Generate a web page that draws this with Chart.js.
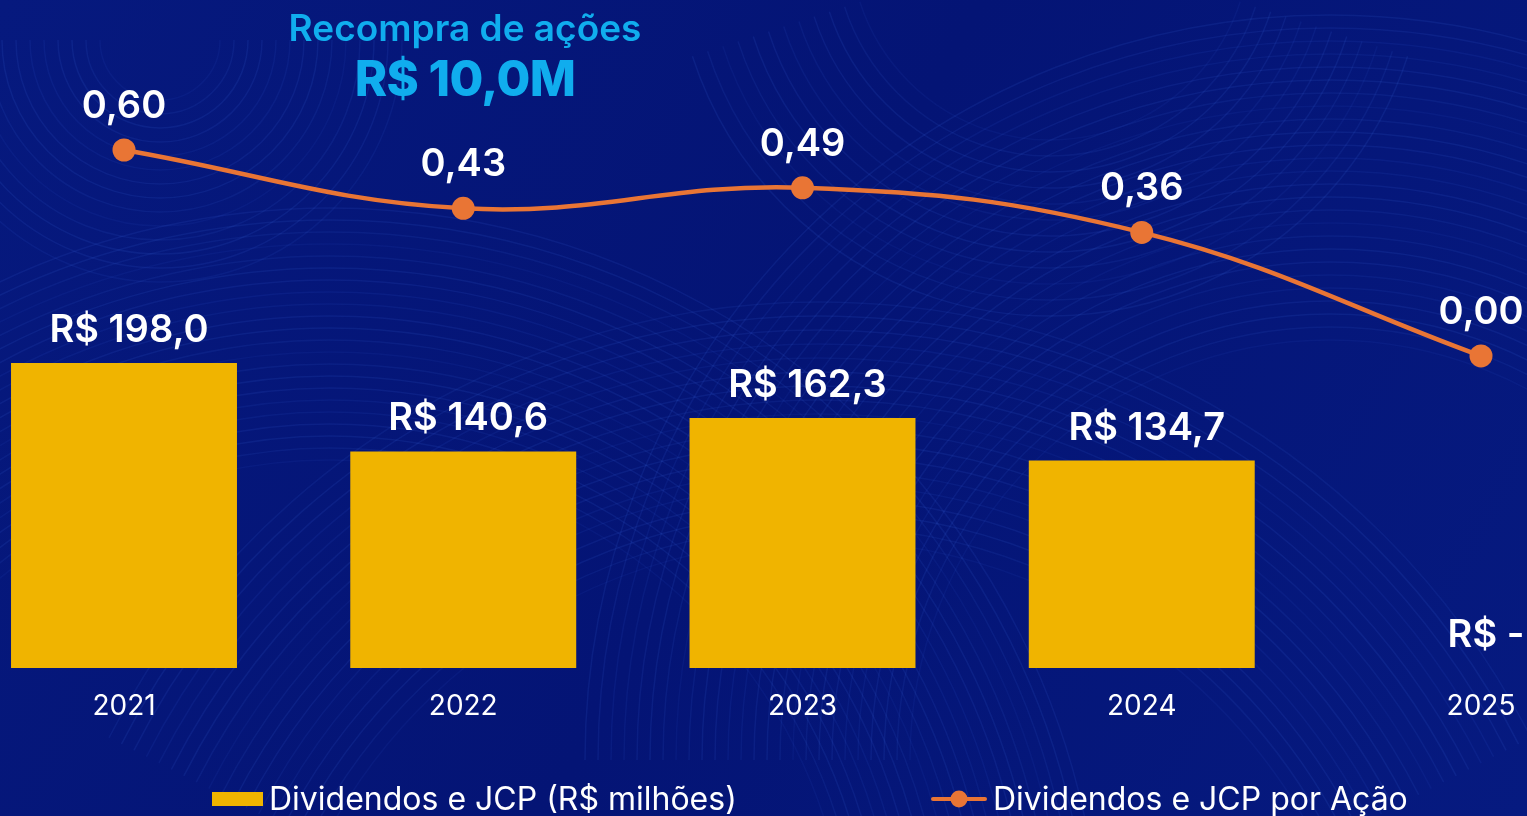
<!DOCTYPE html>
<html lang="pt-BR">
<head>
<meta charset="utf-8">
<title>Dividendos e JCP</title>
<script src="https://cdn.jsdelivr.net/npm/chart.js@4.4.1/dist/chart.umd.min.js"></script>
<style>
  html, body { margin: 0; padding: 0; width: 1527px; height: 816px; overflow: hidden; background: #05177a; font-family: Inter, "Noto Sans", sans-serif; }
  #wrap { position: relative; width: 1527px; height: 816px; }
  #chart { position: absolute; left: 0; top: 0; }
  .title { position: absolute; left: 465px; transform: translateX(-50%); color: #10adee; white-space: nowrap; line-height: 1; }
  #t1 { top: 9px; font-size: 37px; font-weight: 600; }
  #t2 { top: 54px; font-size: 49px; font-weight: 800; letter-spacing: -0.6px; }
  .leg { position: absolute; top: 779px; display: flex; align-items: center; color: #fff; font-size: 32px; line-height: 40px; white-space: nowrap; }
  .leg canvas { display: block; margin-right: 6px; }
</style>
</head>
<body>
<div id="wrap">
  <canvas id="chart" width="1527" height="816"></canvas>
  <div class="title" id="t1">Recompra de ações</div>
  <div class="title" id="t2">R$ 10,0M</div>
  <div class="leg" id="leg0" style="left:212px"></div>
  <div class="leg" id="leg1" style="left:931px"></div>
</div>
<script>
// Anos, valores pagos (R$ milhões) e valor por ação
const years = ['2021', '2022', '2023', '2024', '2025'];
const dividendsTotal = [198.0, 140.6, 162.3, 134.7, 0];
const dividendsPerShare = [0.60, 0.43, 0.49, 0.36, 0.00];
const seriesNames = ['Dividendos e JCP (R$ milhões)', 'Dividendos e JCP por Ação'];

const BAR_COLOR = '#f0b400';
const LINE_COLOR = '#e97535';
const FONT = 'Inter, "Noto Sans", sans-serif';

function fmtMoney(v) {
  return v === 0 ? 'R$ -' : 'R$ ' + v.toFixed(1).replace('.', ',');
}
function fmtShare(v) {
  return v.toFixed(2).replace('.', ',');
}

// Fundo azul com feixes de ondas suaves
const backdrop = {
  id: 'backdrop',
  beforeDraw(chart) {
    const ctx = chart.ctx;
    const w = chart.width, h = chart.height;
    ctx.save();
    const g = ctx.createLinearGradient(0, 0, w, h);
    g.addColorStop(0, '#06197e');
    g.addColorStop(0.5, '#041475');
    g.addColorStop(1, '#061a80');
    ctx.fillStyle = g;
    ctx.fillRect(0, 0, w, h);
    const groups = [
      { cx: 330, cy: 980, r0: 520, n: 22, step: 12, a0: Math.PI * 1.05, a1: Math.PI * 1.95 },
      { cx: 160, cy: 40, r0: 60, n: 14, step: 14, a0: Math.PI * 0.0, a1: Math.PI * 1.0 },
      { cx: 820, cy: 1100, r0: 560, n: 18, step: 14, a0: Math.PI * 1.15, a1: Math.PI * 1.85 },
      { cx: 1330, cy: 760, r0: 420, n: 26, step: 13, a0: Math.PI * 1.0, a1: Math.PI * 2.0 },
      { cx: 1050, cy: -60, r0: 200, n: 12, step: 16, a0: Math.PI * 0.1, a1: Math.PI * 0.9 }
    ];
    ctx.lineWidth = 1.5;
    groups.forEach(gr => {
      for (let i = 0; i < gr.n; i++) {
        ctx.beginPath();
        ctx.arc(gr.cx, gr.cy, gr.r0 + i * gr.step, gr.a0, gr.a1);
        ctx.strokeStyle = 'rgba(70, 115, 240, ' + (0.07 + 0.05 * Math.abs(Math.sin(i * 0.7))) + ')';
        ctx.stroke();
      }
    });
    ctx.restore();
  }
};

// Rótulos de valor sobre barras e pontos
const valueLabels = {
  id: 'valueLabels',
  afterDatasetsDraw(chart) {
    const ctx = chart.ctx;
    ctx.save();
    ctx.fillStyle = '#ffffff';
    ctx.textAlign = 'center';
    ctx.textBaseline = 'alphabetic';
    ctx.font = '600 38px ' + FONT;
    chart.data.datasets.forEach((ds, di) => {
      const meta = chart.getDatasetMeta(di);
      meta.data.forEach((el, i) => {
        const v = ds.data[i];
        if (ds.type === 'bar') {
          ctx.fillText(fmtMoney(v), el.x + 5, el.y - 21);
        } else {
          ctx.fillText(fmtShare(v), el.x, el.y - 32);
        }
      });
    });
    ctx.restore();
  }
};

const chart = new Chart(document.getElementById('chart'), {
  data: {
    labels: years,
    datasets: [
      {
        type: 'line',
        label: seriesNames[1],
        data: dividendsPerShare,
        yAxisID: 'yShare',
        borderColor: LINE_COLOR,
        backgroundColor: LINE_COLOR,
        borderWidth: 4.5,
        tension: 0.4,
        pointRadius: 11.5,
        pointHoverRadius: 11.5,
        pointBorderWidth: 0,
        clip: false,
        order: 0
      },
      {
        type: 'bar',
        label: seriesNames[0],
        data: dividendsTotal,
        yAxisID: 'yTotal',
        backgroundColor: BAR_COLOR,
        borderWidth: 0,
        categoryPercentage: 1,
        barPercentage: 0.666,
        clip: false,
        order: 1
      }
    ]
  },
  options: {
    responsive: false,
    devicePixelRatio: 1,
    animation: false,
    layout: { autoPadding: false, padding: { left: 124, right: 46, top: 0, bottom: 0 } },
    plugins: {
      legend: { display: false },
      title: { display: false },
      tooltip: { enabled: false }
    },
    scales: {
      x: {
        offset: false,
        grid: { display: false, drawTicks: false },
        border: { display: false },
        ticks: { color: '#ffffff', font: { family: FONT, size: 28 }, padding: 22 },
        afterFit(scale) {
          scale.height = 148;
          scale.paddingLeft = 0;
          scale.paddingRight = 0;
        }
      },
      yTotal: {
        display: false,
        min: 0,
        max: 433.7
      },
      yShare: {
        display: false,
        min: -0.9088,
        max: 1.0369
      }
    }
  },
  plugins: [backdrop, valueLabels]
});

// Legenda construída a partir das séries
function legendSwatch(ds) {
  const c = document.createElement('canvas');
  if (ds.type === 'bar') {
    c.width = 51; c.height = 14;
    const x = c.getContext('2d');
    x.fillStyle = ds.backgroundColor;
    x.fillRect(0, 0, 51, 14);
  } else {
    c.width = 56; c.height = 20;
    const x = c.getContext('2d');
    x.strokeStyle = ds.borderColor;
    x.lineWidth = 4;
    x.lineCap = 'round';
    x.beginPath(); x.moveTo(2, 10); x.lineTo(54, 10); x.stroke();
    x.fillStyle = ds.backgroundColor;
    x.beginPath(); x.arc(28, 10, 8.5, 0, Math.PI * 2); x.fill();
  }
  return c;
}
[1, 0].forEach((di, k) => {
  const ds = chart.data.datasets[di];
  const box = document.getElementById('leg' + k);
  box.appendChild(legendSwatch(ds));
  const span = document.createElement('span');
  span.textContent = ds.label;
  box.appendChild(span);
});
</script>
</body>
</html>
